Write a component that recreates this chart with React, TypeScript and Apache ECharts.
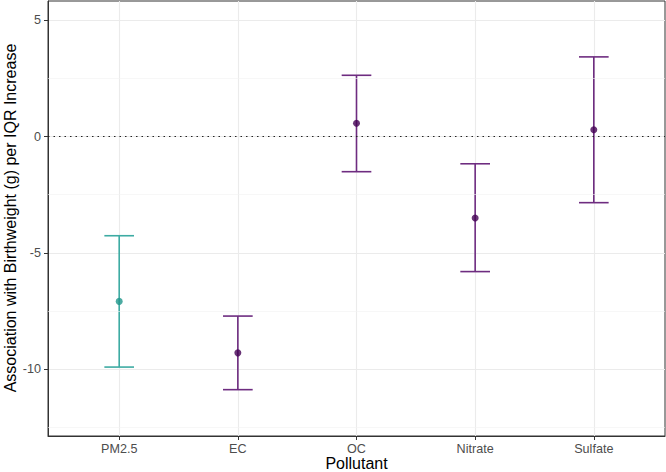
import React, { useEffect, useRef } from "react";
import * as echarts from "echarts";

const categories = ["PM2.5", "EC", "OC", "Nitrate", "Sulfate"];
const estimates = [-7.08, -9.29, 0.57, -3.5, 0.29];
const lowerCI = [-9.9, -10.87, -1.51, -5.8, -2.84];
const upperCI = [-4.26, -7.71, 2.63, -1.17, 3.42];
const groups = ["total", "component", "component", "component", "component"];
const yTicks = [-10, -5, 0, 5];
const yMinorGrid = [-12.5, -7.5, -2.5, 2.5];
const xTitle = "Pollutant";
const yTitle = "Association with Birthweight (g) per IQR Increase";

const barColors: Record<string, string> = { total: "#3DABA3", component: "#6E2C80" };
const pointColors: Record<string, string> = { total: "#1F968B", component: "#440154" };

export default function App() {
  const ref = useRef<HTMLDivElement>(null);
  useEffect(() => {
    if (!ref.current) return;
    const chart = echarts.init(ref.current, null, { renderer: "svg" });
    const xs = categories.map((_, i) => i + 1);
    const errData = categories.map((_, i) => ({
      value: [i + 1, lowerCI[i], upperCI[i]],
      itemStyle: { color: barColors[groups[i]] },
    }));
    const ptData = categories.map((_, i) => ({
      value: [i + 1, estimates[i]],
      itemStyle: { color: pointColors[groups[i]] },
    }));
    const font = "'Liberation Sans', Arial, sans-serif";
    chart.setOption({
      animation: false,
      backgroundColor: "#ffffff",
      grid: {
        left: 48,
        right: 1,
        top: 1,
        bottom: 36,
        outerBoundsMode: "none",
        containLabel: false,
        show: true,
        borderColor: "#333333",
        borderWidth: 1,
        backgroundColor: "transparent",
      },
      graphic: [
        {
          type: "text",
          x: 356.5,
          y: 463.5,
          style: {
            text: xTitle,
            font: `16px ${font}`,
            fill: "#000",
            align: "center",
            verticalAlign: "middle",
          },
        },
        {
          type: "text",
          x: 10,
          y: 218,
          rotation: Math.PI / 2,
          style: {
            text: yTitle,
            font: `16px ${font}`,
            fill: "#000",
            align: "center",
            verticalAlign: "middle",
          },
        },
      ],
      xAxis: {
        type: "value",
        min: 0.4,
        max: 5.6,
        axisLine: { show: true, onZero: false, lineStyle: { color: "#333", width: 1 } },
        axisTick: { show: true, length: 4, customValues: xs, lineStyle: { color: "#333", width: 1 } },
        axisLabel: {
          customValues: xs,
          formatter: (v: number) => categories[Math.round(v) - 1] ?? "",
          fontFamily: font,
          fontSize: 12.6,
          color: "#4D4D4D",
          margin: 6,
        },
        splitLine: { show: true, lineStyle: { color: "#EBEBEB", width: 1.1 } },
      },
      yAxis: {
        type: "value",
        min: -12.86,
        max: 5.82,
        axisLine: { show: true, onZero: false, lineStyle: { color: "#333", width: 1 } },
        axisTick: { show: true, length: 4, customValues: yTicks, lineStyle: { color: "#333", width: 1 } },
        axisLabel: {
          customValues: yTicks,
          fontFamily: font,
          fontSize: 12.6,
          color: "#4D4D4D",
          margin: 7,
        },
        splitLine: { show: true, lineStyle: { color: "#EBEBEB", width: 1.1 } },
      },
      series: [
        {
          type: "line",
          data: [],
          silent: true,
          markLine: {
            silent: true,
            symbol: "none",
            label: { show: false },
            lineStyle: { color: "#F2F2F2", width: 0.6, type: "solid" },
            data: yMinorGrid.map((y) => ({ yAxis: y })),
          },
        },
        {
          type: "line",
          data: [],
          silent: true,
          markLine: {
            silent: true,
            symbol: "none",
            label: { show: false },
            lineStyle: { color: "#222", width: 1.2, type: [1.5, 4] },
            data: [{ yAxis: 0 }],
          },
        },
        {
          type: "custom",
          data: errData,
          renderItem: (params: any, api: any) => {
            const x = api.value(0);
            const lo = api.coord([x, api.value(1)]);
            const hi = api.coord([x, api.value(2)]);
            const half = api.size([1, 0])[0] * 0.125;
            const style = { stroke: api.visual("color"), lineWidth: 1.6, fill: "none" };
            return {
              type: "group",
              children: [
                { type: "line", shape: { x1: lo[0], y1: lo[1], x2: hi[0], y2: hi[1] }, style },
                { type: "line", shape: { x1: lo[0] - half, y1: lo[1], x2: lo[0] + half, y2: lo[1] }, style },
                { type: "line", shape: { x1: hi[0] - half, y1: hi[1], x2: hi[0] + half, y2: hi[1] }, style },
              ],
            };
          },
          z: 3,
        },
        {
          type: "scatter",
          data: ptData,
          symbol: "circle",
          symbolSize: 7,
          z: 4,
        },
      ],
    });
    return () => chart.dispose();
  }, []);
  return (
    <div
      ref={ref}
      style={{ position: "fixed", left: 0, top: 0, width: 666, height: 472, background: "#fff" }}
    />
  );
}
